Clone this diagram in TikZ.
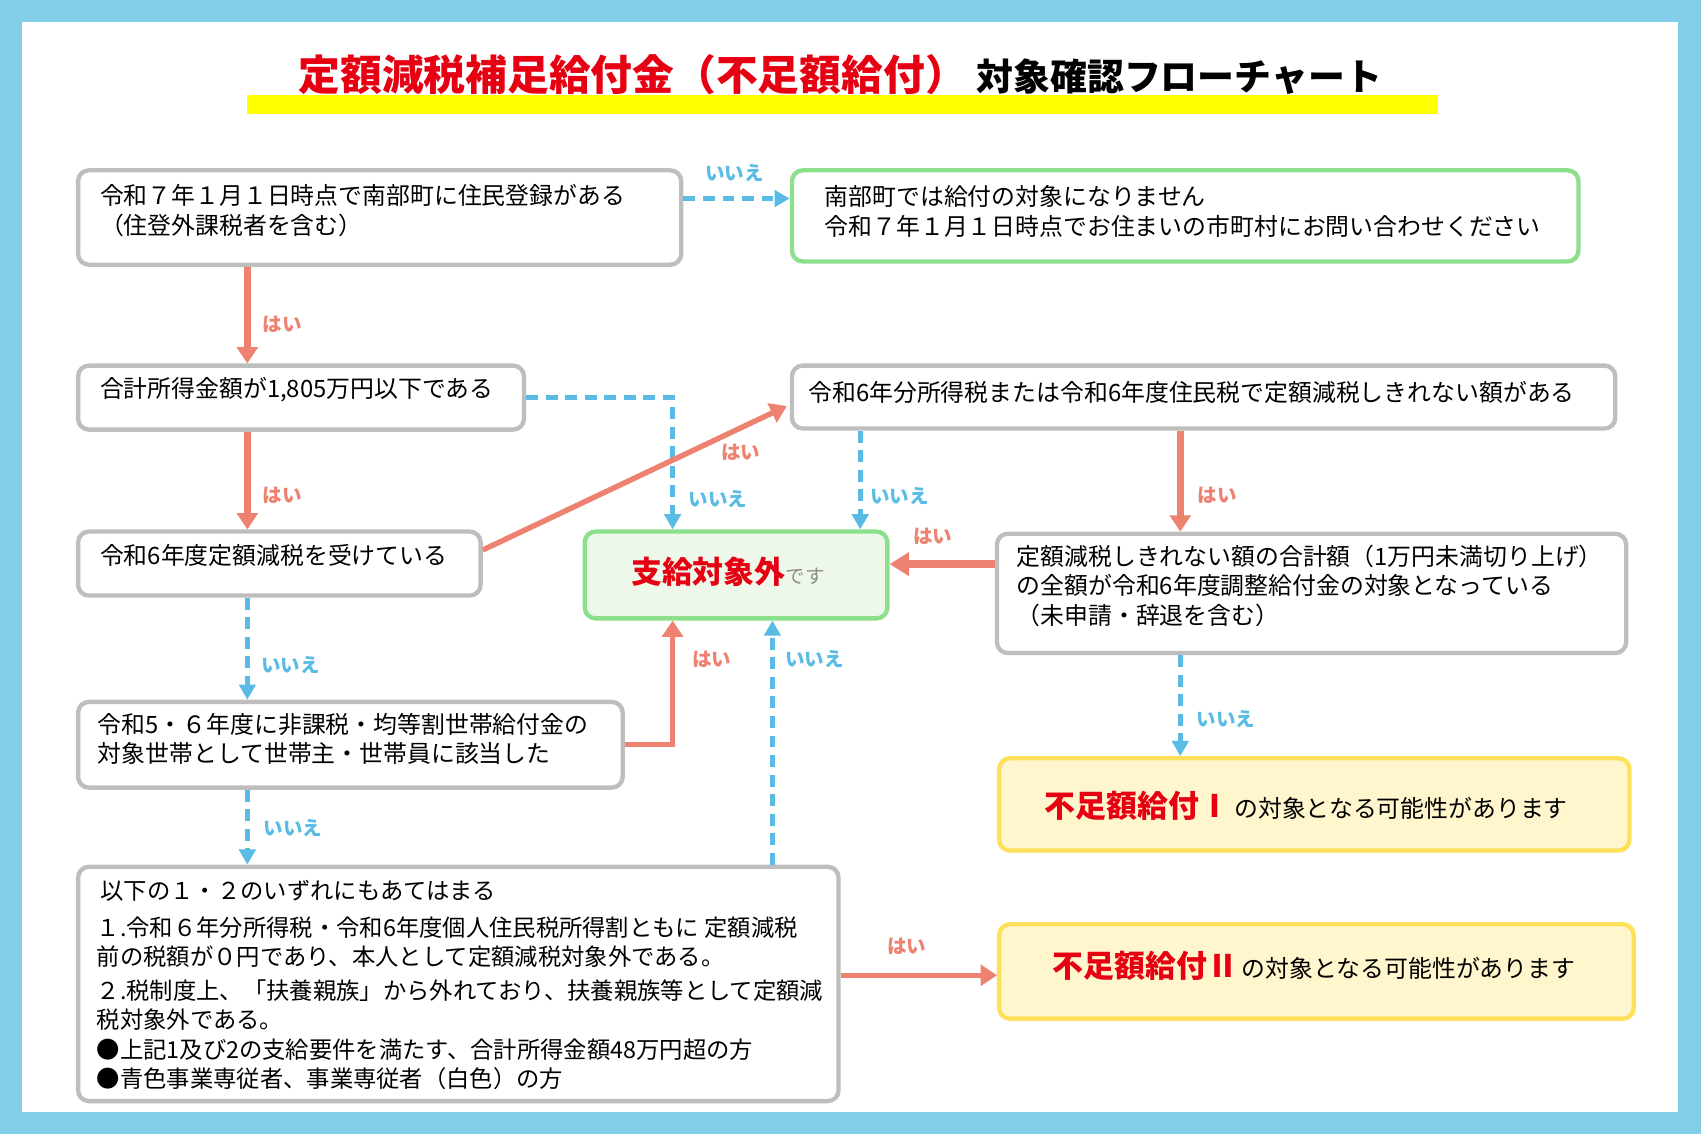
\documentclass[tikz,border=0pt]{standalone}
\usepackage{fontspec}
\setmainfont{Noto Sans CJK JP}
\usetikzlibrary{arrows.meta}
\definecolor{bgblue}{RGB}{130,206,233}
\definecolor{boxgray}{RGB}{190,190,190}
\definecolor{grn}{RGB}{140,224,140}
\definecolor{outfill}{RGB}{237,248,235}
\definecolor{ylw}{RGB}{255,224,90}
\definecolor{yfill}{RGB}{255,246,206}
\definecolor{tred}{RGB}{230,0,18}
\definecolor{ared}{RGB}{238,130,112}
\definecolor{ablue}{RGB}{90,188,228}
\definecolor{tyellow}{RGB}{255,255,0}
\definecolor{desu}{RGB}{140,140,140}
\tikzset{
 box/.style={draw=boxgray, line width=4pt, rounded corners=10pt, fill=white, inner sep=0pt, anchor=north west},
 gbox/.style={box, draw=grn},
 obox/.style={box, draw=grn, fill=outfill},
 ybox/.style={box, draw=ylw, fill=yfill},
 txt/.style={inner sep=0pt, align=left, anchor=west, font=\fontsize{22}{27}\selectfont},
 yesarrow/.style={draw=ared, line width=6.5pt, -{Triangle[width=19pt,length=15pt]}},
 noarrow/.style={draw=ablue, line width=5pt, dash pattern=on 11pt off 7pt, -{Triangle[width=15pt,length=14pt]}},
 ylab/.style={text=ared, font=\fontsize{18}{20}\selectfont\bfseries, inner sep=0pt},
 nlab/.style={text=ablue, font=\fontsize{18}{20}\selectfont\bfseries, inner sep=0pt}
}
\begin{document}
\begin{tikzpicture}[x=1pt,y=-1pt]
\fill[bgblue] (0,0) rectangle (1568,1045);
\fill[white] (20,20) rectangle (1547,1025);
\useasboundingbox (0,0) rectangle (1568,1045);
% title
\fill[tyellow] (228,88) rectangle (1326,105);
\node[anchor=base west, inner sep=0pt, text=tred, font=\fontsize{38.5}{40}\selectfont\bfseries] (title1) at (275,83) {定額減税補足給付金（不足額給付）};
\node[anchor=base west, inner sep=0pt, font=\fontsize{34}{36}\selectfont\bfseries] (title2) at (900,83) {対象確認フローチャート};
% boxes
\node[box, minimum width=556, minimum height=87] (b1) at (70,155) {};
\node[txt] (t1) at (92,194) {令和７年１月１日時点で南部町に住民登録がある\\（住登外課税者を含む）};
\node[gbox, minimum width=725, minimum height=84] (g1) at (728,155) {};
\node[txt] (tg1) at (760,195) {南部町では給付の対象になりません\\令和７年１月１日時点でお住まいの市町村にお問い合わせください};
\node[box, minimum width=411, minimum height=59] (b2) at (70,335) {};
\node[txt] (t2) at (92,359) {合計所得金額が1,805万円以下である};
\node[box, minimum width=371, minimum height=59] (b3) at (70,488) {};
\node[txt] (t3) at (92,512) {令和6年度定額減税を受けている};
\node[box, minimum width=759, minimum height=58] (b4) at (728,335) {};
\node[txt] (t4) at (745,362) {令和6年分所得税または令和6年度住民税で定額減税しきれない額がある};
\node[obox, minimum width=279, minimum height=80] (out) at (537,488) {};
\node[inner sep=0pt] (tout) at (671,527) {{\fontsize{28.5}{30}\selectfont\bfseries\color{tred}支給対象外}{\fontsize{18}{20}\selectfont\color{desu}です}};
\node[box, minimum width=580, minimum height=110] (b5) at (917,490) {};
\node[txt] (t5) at (937,540) {定額減税しきれない額の合計額（1万円未満切り上げ）\\の全額が令和6年度調整給付金の対象となっている\\（未申請・辞退を含む）};
\node[ybox, minimum width=581, minimum height=85] (y1) at (919,697) {};
\node[txt] (ty1) at (963,743) {{\fontsize{28.5}{30}\selectfont\bfseries\color{tred}不足額給付Ⅰ}\,の対象となる可能性があります};
\node[box, minimum width=502, minimum height=79] (b6) at (70,645) {};
\node[txt] (t6) at (90,681) {令和5・６年度に非課税・均等割世帯給付金の\\対象世帯として世帯主・世帯員に該当した};
\node[box, minimum width=701, minimum height=216] (b7) at (70,797) {};
\node[txt, font=\fontsize{21.5}{27}\selectfont] (t7) at (89,908) {\,以下の１・２のいずれにもあてはまる\\[7pt]
１.令和６年分所得税・令和6年度個人住民税所得割ともに 定額減税\\
前の税額が０円であり、本人として定額減税対象外である。\\[4pt]
２.税制度上、「扶養親族」から外れており、扶養親族等として定額減\\
税対象外である。\\
●上記1及び2の支給要件を満たす、合計所得金額48万円超の方\\
●青色事業専従者、事業専従者（白色）の方};
\node[ybox, minimum width=585, minimum height=87] (y2) at (919,850) {};
\node[txt] (ty2) at (970,890) {{\fontsize{28.5}{30}\selectfont\bfseries\color{tred}不足額給付Ⅱ}\,の対象となる可能性があります};
% connectors
\draw[noarrow] ([yshift=17.5pt]b1.east) -- ([yshift=16pt]g1.west);
\node[nlab] (l1) at (677,160) {いいえ};
\draw[yesarrow] ([xshift=158pt]b1.south west) -- ([xshift=158pt]b2.north west);
\node[ylab] (l2) at (260,299) {はい};
\draw[noarrow] (b2.east) -| ([xshift=83pt]out.north west);
\node[nlab] (l3) at (662,460) {いいえ};
\draw[yesarrow] ([xshift=158pt]b2.south west) -- ([xshift=158pt]b3.north west);
\node[ylab] (l4) at (260,457) {はい};
\draw[yesarrow, line width=5pt, shorten >=3pt] ([yshift=12.5pt]b3.east) -- ([yshift=-7pt]b4.west);
\node[ylab] (l5) at (683,417) {はい};
\draw[noarrow] ([xshift=65pt]b4.south west) -- ([xshift=256pt]out.north west);
\node[nlab] (l6) at (829,457) {いいえ};
\draw[yesarrow] ([xshift=360pt]b4.south west) -- ([xshift=171pt]b5.north west);
\node[ylab] (l7) at (1122,457) {はい};
\draw[yesarrow, line width=7.5pt, -{Triangle[width=21pt,length=18pt]}] ([yshift=27pt]b5.west) -- ([yshift=10pt]out.east);
\node[ylab] (l8) at (860,494) {はい};
\draw[noarrow] ([xshift=171pt]b5.south west) -- ([xshift=169pt]y1.north west);
\node[nlab] (l9) at (1130,663) {いいえ};
\draw[noarrow] ([xshift=158pt]b3.south west) -- ([xshift=158pt]b6.north west);
\node[nlab] (l10) at (268,613) {いいえ};
\draw[yesarrow, line width=5pt] (b6.east) -| ([xshift=83pt]out.south west);
\node[ylab] (l11) at (656,608) {はい};
\draw[noarrow] ([xshift=158pt]b6.south west) -- ([xshift=158pt]b7.north west);
\node[nlab] (l12) at (270,763) {いいえ};
\draw[noarrow] ([xshift=642pt]b7.north west) -- ([xshift=175pt]out.south west);
\node[nlab] (l13) at (751,608) {いいえ};
\draw[yesarrow, line width=5pt] ([yshift=8pt]b7.east) -- ([yshift=-3.5pt]y2.west);
\node[ylab] (l14) at (836,872) {はい};
\end{tikzpicture}
\end{document}
